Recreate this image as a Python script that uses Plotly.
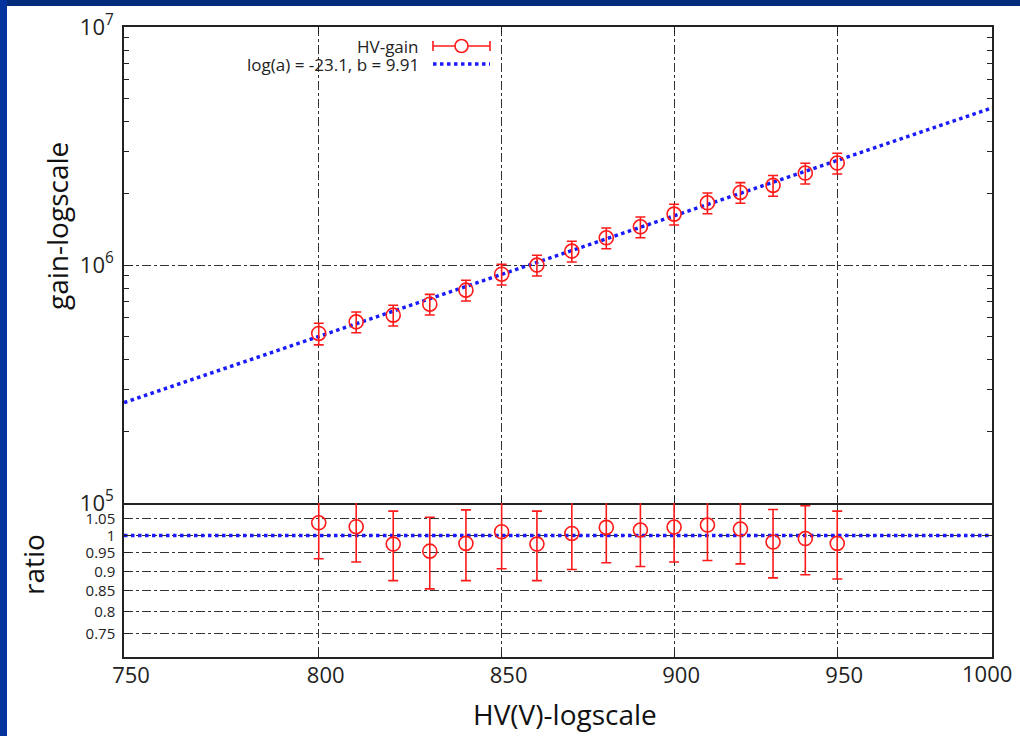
import numpy as np
import plotly.graph_objects as go

# ---------------- data ----------------
hv = [800, 810, 820, 830, 840, 850, 860, 870, 880, 890, 900, 910, 920, 930, 940, 950]
gain = [5.155e5, 5.77e5, 6.155e5, 6.845e5, 7.84e5, 9.15e5, 9.99e5, 1.144e6,
        1.301e6, 1.447e6, 1.636e6, 1.825e6, 2.018e6, 2.160e6, 2.434e6, 2.681e6]
rel_err = [0.104, 0.10, 0.10, 0.10, 0.10, 0.10, 0.10, 0.10,
           0.10, 0.10, 0.10, 0.10, 0.10, 0.10, 0.10, 0.10]
ratio = [1.038, 1.026, 0.975, 0.955, 0.977, 1.011, 0.975, 1.006,
         1.024, 1.016, 1.025, 1.031, 1.019, 0.981, 0.991, 0.977]
ratio_err = [0.104, 0.101, 0.099, 0.100, 0.101, 0.104, 0.099, 0.101,
             0.101, 0.103, 0.100, 0.102, 0.099, 0.098, 0.100, 0.097]

fit_loga = -23.07      # log10(a) of the fitted power law gain = a * HV^b
fit_b = 9.91
fit_label = "log(a) = -23.1, b = 9.91"
fit_hv = [750, 1000]

x_ticks = [750, 800, 850, 900, 950, 1000]
x_tick_text = ["750", "800", "850", "900", "950", "1000"]
ratio_ticks = [0.75, 0.8, 0.85, 0.9, 0.95, 1, 1.05]
gain_major = [1e5, 1e6, 1e7]
gain_major_text = ["10<sup>5</sup>", "10<sup>6</sup>", "10<sup>7</sup>"]
gain_minor = [m * 10 ** e for e in (5, 6) for m in range(2, 10)]

# ---------------- derived ----------------
gain_err = [g * r for g, r in zip(gain, rel_err)]
fit_x = np.array(fit_hv, dtype=float)
fit_y = 10 ** (fit_loga + fit_b * np.log10(fit_x))

RED = "#ff1a1a"
BLUE = "#1a1aff"
FONT = "Open Sans"
AX = "#222222"

# plot-area geometry in px
W, H = 1020, 736
L, R, T, B = 124, 28, 27, 79
PW, PH = W - L - R, H - T - B
split = (657 - 503) / PH


def px(x):
    return (x - L) / PW


def py(y):
    return (H - B - y) / PH


fig = go.Figure()

# upper panel
fig.add_trace(go.Scatter(
    x=fit_x, y=fit_y, mode="lines", xaxis="x", yaxis="y",
    line=dict(color=BLUE, width=3.5, dash="dot"), showlegend=False))
fig.add_trace(go.Scatter(
    x=hv, y=gain, mode="markers", xaxis="x", yaxis="y",
    marker=dict(symbol="circle-open", size=14, color=RED, line=dict(width=1.6, color=RED)),
    error_y=dict(type="data", array=gain_err, color=RED, thickness=1.6, width=5),
    showlegend=False))

# lower panel
fig.add_trace(go.Scatter(
    x=fit_x, y=[1, 1], mode="lines", xaxis="x2", yaxis="y2",
    line=dict(color=BLUE, width=3.5, dash="dot"), showlegend=False))
fig.add_trace(go.Scatter(
    x=hv, y=ratio, mode="markers", xaxis="x2", yaxis="y2",
    marker=dict(symbol="circle-open", size=14, color=RED, line=dict(width=1.6, color=RED)),
    error_y=dict(type="data", array=ratio_err, color=RED, thickness=1.6, width=5),
    showlegend=False))

# the last x label is drawn as an annotation so it can sit left of the frame edge
x_axis_text = [t if v != x_ticks[-1] else "" for v, t in zip(x_ticks, x_tick_text)]

xcommon = dict(
    type="log", range=[np.log10(750), np.log10(1000)],
    tickvals=x_ticks, ticktext=x_axis_text,
    showline=True, linecolor=AX, linewidth=1.5,
    ticks="inside", ticklen=7, tickcolor=AX, tickwidth=1.2,
    showgrid=True, gridcolor="#333333", gridwidth=1, griddash="dashdot",
    zeroline=False, automargin=False,
)

fig.update_layout(
    width=W, height=H,
    margin=dict(l=L, r=R, t=T, b=B),
    paper_bgcolor="white", plot_bgcolor="white",
    font=dict(family=FONT, color=AX),
    showlegend=False,
    xaxis=dict(**xcommon, anchor="y", mirror="ticks", showticklabels=False),
    xaxis2=dict(**xcommon, anchor="y2", matches="x", mirror=False,
                tickfont=dict(size=22, family=FONT, color=AX), ticklabelshift=7,
                ticklabelstandoff=-2),
    yaxis=dict(
        type="log", range=[5, 7], domain=[split, 1], anchor="x",
        tickvals=gain_major, ticktext=gain_major_text,
        tickfont=dict(size=22, family=FONT, color=AX),
        showline=True, linecolor=AX, linewidth=1.5, mirror="ticks",
        ticks="inside", ticklen=9, tickcolor=AX, tickwidth=1.2,
        minor=dict(tickvals=gain_minor, ticks="inside", ticklen=5, tickcolor=AX,
                   tickwidth=1.2, showgrid=False),
        showgrid=True, gridcolor="#333333", gridwidth=1, griddash="dashdot",
        zeroline=False, ticklabelstandoff=4, automargin=False,
    ),
    yaxis2=dict(
        type="log", range=[np.log10(0.7), np.log10(1.1)], domain=[0, split], anchor="x2",
        tickvals=ratio_ticks, ticktext=[f"{v:g}" for v in ratio_ticks],
        tickfont=dict(size=15, family=FONT, color=AX),
        showline=True, linecolor=AX, linewidth=1.5, mirror="ticks",
        ticks="inside", ticklen=7, tickcolor=AX, tickwidth=1.2,
        showgrid=True, gridcolor="#333333", gridwidth=1, griddash="dashdot",
        zeroline=False, ticklabelstandoff=4, automargin=False,
    ),
)

shapes = []
# dark blue frame bands (top, left)
shapes.append(dict(type="rect", xref="paper", yref="paper", x0=px(0), x1=px(W), y0=py(6), y1=py(0),
                   fillcolor="#022b7c", line=dict(width=0), layer="below"))
shapes.append(dict(type="rect", xref="paper", yref="paper", x0=px(0), x1=px(7), y0=py(H), y1=py(0),
                   fillcolor="#03339c", line=dict(width=0), layer="below"))

# legend samples (manual, gnuplot style: text then sample)
ly1, ly2 = 46, 64
sx0, sx1, sxc = 433, 490, 461.5
shapes.append(dict(type="line", xref="paper", yref="paper", x0=px(sx0), x1=px(sx1), y0=py(ly1), y1=py(ly1),
                   line=dict(color=RED, width=1.6)))
for xx in (sx0, sx1):
    shapes.append(dict(type="line", xref="paper", yref="paper", x0=px(xx), x1=px(xx),
                       y0=py(ly1 - 5), y1=py(ly1 + 5), line=dict(color=RED, width=1.6)))
shapes.append(dict(type="circle", xref="paper", yref="paper", x0=px(sxc - 6.5), x1=px(sxc + 6.5),
                   y0=py(ly1 + 6.5), y1=py(ly1 - 6.5), line=dict(color=RED, width=1.6), fillcolor="white"))
shapes.append(dict(type="line", xref="paper", yref="paper", x0=px(sx0), x1=px(sx1), y0=py(ly2), y1=py(ly2),
                   line=dict(color=BLUE, width=3.5, dash="dot")))
fig.update_layout(shapes=shapes)

annotations = [
    dict(text="HV-gain", xref="paper", yref="paper", x=px(421), y=py(ly1), xanchor="right", yanchor="middle",
         showarrow=False, font=dict(size=17, family=FONT, color=AX)),
    dict(text=fit_label, xref="paper", yref="paper", x=px(421), y=py(ly2), xanchor="right", yanchor="middle",
         showarrow=False, font=dict(size=17, family=FONT, color=AX)),
    dict(text=x_tick_text[-1], xref="x2", yref="paper", x=np.log10(x_ticks[-1]), xshift=-5,
         y=py(673), xanchor="center", yanchor="middle", showarrow=False,
         font=dict(size=22, family=FONT, color=AX)),
    dict(text="gain-logscale", xref="paper", yref="paper", x=px(57), y=py(226), xanchor="center",
         yanchor="middle", textangle=-90, showarrow=False, font=dict(size=28, family=FONT, color="#111")),
    dict(text="ratio", xref="paper", yref="paper", x=px(33), y=py(565), xanchor="center",
         yanchor="middle", textangle=-90, showarrow=False, font=dict(size=28, family=FONT, color="#111")),
    dict(text="HV(V)-logscale", xref="paper", yref="paper", x=px(565), y=py(714), xanchor="center",
         yanchor="middle", showarrow=False, font=dict(size=28, family=FONT, color="#111")),
]
fig.update_layout(annotations=annotations)

fig.write_html("out.html")
